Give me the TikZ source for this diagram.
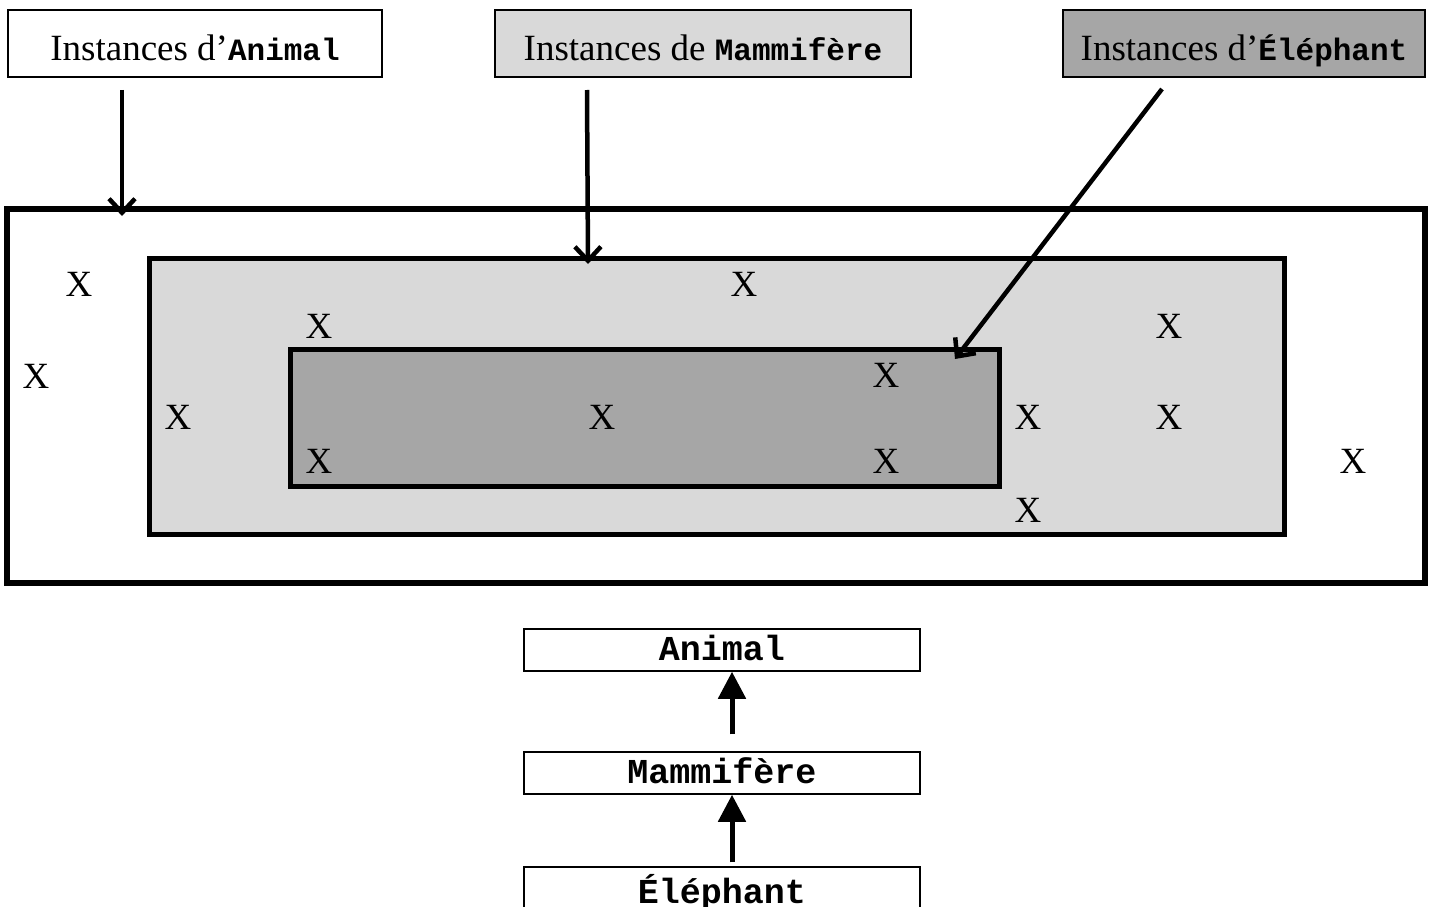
\documentclass[tikz,border=0pt]{standalone}
\usepackage{fontspec}
\setmainfont{Liberation Serif}
\setmonofont{Liberation Mono}
\usetikzlibrary{arrows.meta}
\definecolor{lightg}{HTML}{D9D9D9}
\definecolor{darkg}{HTML}{A6A6A6}
\newcommand{\clsname}[1]{{\ttfamily\bfseries\fontsize{31}{31}\selectfont #1}}
\begin{document}
\begin{tikzpicture}[x=1pt,y=-1pt,
  lab/.style={draw, line width=1.5pt, inner sep=0pt, minimum height=67pt, text height=40pt, text depth=7pt, font=\fontsize{37}{40}\selectfont},
  setbox/.style={draw, inner sep=0pt},
  cls/.style={draw, line width=1.5pt, inner sep=0pt, minimum width=396pt, minimum height=42pt, text height=20pt, text depth=0pt, font=\ttfamily\bfseries\fontsize{35}{35}\selectfont},
  xmark/.style={inner sep=0pt, font=\fontsize{37}{40}\selectfont},
  pointer/.style={line width=4.5pt, -{Straight Barb[length=14pt,width=26pt]}},
  inherit/.style={line width=5pt, -{Triangle[length=27pt,width=27pt]}}
]
\useasboundingbox (0,0) rectangle (1433,907);
\fill[white] (0,0) rectangle (1433,907);

% sets
\node[setbox, line width=5.5pt, minimum width=1418pt, minimum height=374pt] (outer) at (716,396) {};
\node[setbox, line width=5pt, fill=lightg, minimum width=1135pt, minimum height=276pt] (middle) at (716.5,396) {};
\node[setbox, line width=5pt, fill=darkg, minimum width=709pt, minimum height=137pt] (inner) at (644.5,417.5) {};

% labels
\node[lab, fill=white, minimum width=374pt] (l1) at (195,43.5) {Instances d’\clsname{Animal}};
\node[lab, fill=lightg, minimum width=416pt] (l2) at (703,43.5) {Instances de \clsname{Mammifère}};
\node[lab, fill=darkg, minimum width=362pt] (l3) at (1244,43.5) {Instances d’\clsname{Éléphant}};

% pointer coordinates
\coordinate (p1s) at (122,90);
\coordinate (p1e) at (122,216);
\coordinate (p2s) at (587,90);
\coordinate (p2e) at (588,264);
\coordinate (p3s) at (1162,89);
\coordinate (p3e) at (955,359);
\draw[pointer] (p1s) -- (p1e);
\draw[pointer] (p2s) -- (p2e);
\draw[pointer] (p3s) -- (p3e);

% instances
\node[xmark] (x1) at (79,284) {X};
\node[xmark] (x2) at (744,284) {X};
\node[xmark] (x3) at (319,326) {X};
\node[xmark] (x4) at (1169,326) {X};
\node[xmark] (x5) at (36,376) {X};
\node[xmark] (x6) at (886,375) {X};
\node[xmark] (x7) at (178,417) {X};
\node[xmark] (x8) at (602,417) {X};
\node[xmark] (x9) at (1028,417) {X};
\node[xmark] (x10) at (1169,417) {X};
\node[xmark] (x11) at (319,461) {X};
\node[xmark] (x12) at (886,461) {X};
\node[xmark] (x13) at (1353,461) {X};
\node[xmark] (x14) at (1028,510) {X};

% class hierarchy
\node[cls] (ani) at (722,650) {Animal};
\node[cls] (mam) at (722,773) {Mammifère};
\node[cls, minimum height=52pt] (ele) at (722,893) {Éléphant};
\draw[inherit] ([xshift=10pt,yshift=17pt]mam.north) -- ([xshift=10pt]ani.south);
\draw[inherit] ([xshift=10pt,yshift=4pt]ele.north) -- ([xshift=10pt]mam.south);
\end{tikzpicture}
\end{document}
